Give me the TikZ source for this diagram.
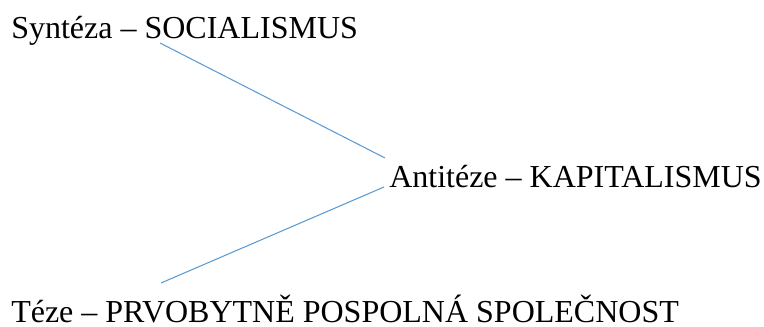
\documentclass[tikz,border=0pt]{standalone}
\usepackage{fontspec}
\setmainfont{Liberation Serif}
\usetikzlibrary{positioning}
\definecolor{linkblue}{RGB}{91,155,213}
\tikzset{
    stage/.style={anchor=base west, inner sep=0pt, font=\fontsize{24}{28}\selectfont},
    link/.style={draw=linkblue, line width=0.8pt}
}
\begin{document}
\begin{tikzpicture}[x=0.75pt, y=-0.75pt]
\useasboundingbox (0,0) rectangle (764,327);

% Stages
\node[stage] (syn) at (11,39) {Syntéza – SOCIALISMUS};
\node[stage] (ant) at (389,188) {Antitéze – KAPITALISMUS};
\node[stage] (tez) at (11,323) {Téze – PRVOBYTNĚ POSPOLNÁ SPOLEČNOST};

% Line ends
\coordinate (synend) at (160,43);
\coordinate (antup) at (385,158);
\coordinate (antdown) at (384,187);
\coordinate (tezend) at (161,283);

\draw[link] (synend) -- (antup);
\draw[link] (tezend) -- (antdown);

\end{tikzpicture}
\end{document}
